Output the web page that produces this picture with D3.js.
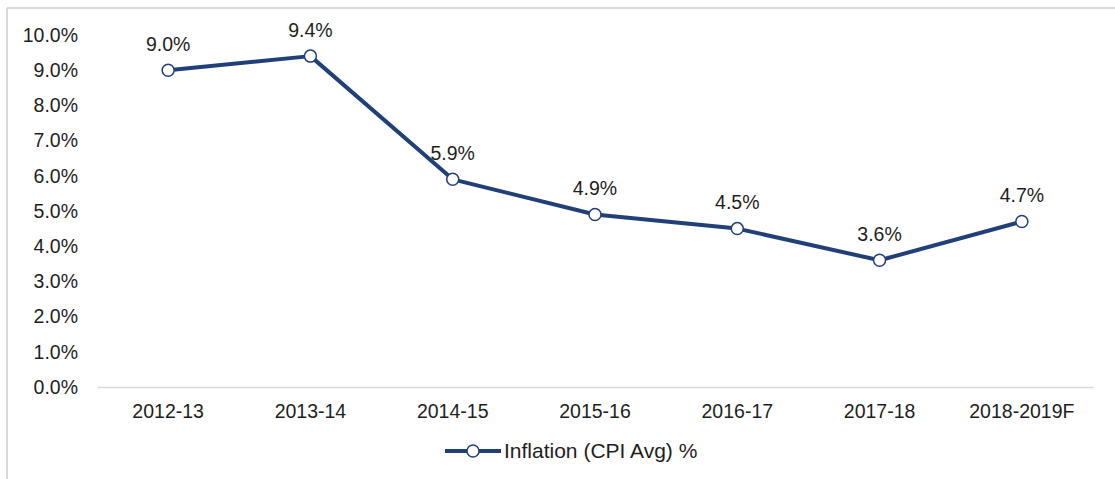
<!DOCTYPE html>
<html>
<head>
<meta charset="utf-8">
<script src="https://cdnjs.cloudflare.com/ajax/libs/d3/7.8.5/d3.min.js"></script>
<style>
    body { margin: 0; background: #fff; }
    svg text { font-family: "Liberation Sans", Arial, sans-serif; fill: #1e1e1e; }
</style>
</head>
<body>
<div id="chart"></div>
<script>
/* ----------------------------------------------------- Data ------------------------------------------------------------------------- */

const years = ["2012-13", "2013-14", "2014-15", "2015-16", "2016-17", "2017-18", "2018-2019F"];
const inflation = [9.0, 9.4, 5.9, 4.9, 4.5, 3.6, 4.7];
const yTicks = [0, 1, 2, 3, 4, 5, 6, 7, 8, 9, 10];
const seriesName = "Inflation (CPI Avg) %";

/* ----------------------------------------------------- Chart ------------------------------------------------------------------------ */

const width = 1115;
const height = 479;
const margin = { top: 35, right: 22, bottom: 92, left: 97 };
const navy = "#213f78";
const fontSize = '19.5px';

const svg = d3.select('#chart').append('svg')
    .attr('width', width)
    .attr('height', height);

/* frame (top and left edges only visible) */
svg.append('line')
    .attr('x1', 7).attr('x2', width).attr('y1', 8).attr('y2', 8)
    .attr('stroke', '#d9d9d9').attr('stroke-width', 2);
svg.append('line')
    .attr('x1', 7).attr('x2', 7).attr('y1', 8).attr('y2', height)
    .attr('stroke', '#d9d9d9').attr('stroke-width', 2);

const xScale = d3.scaleBand()
    .domain(years)
    .range([margin.left, width - margin.right]);

const yScale = d3.scaleLinear()
    .domain([0, 10])
    .range([height - margin.bottom, margin.top]);

/* y axis labels */
const yAxis = svg.append('g')
    .attr('transform', `translate(${margin.left - 19}, 0)`)
    .call(d3.axisLeft(yScale).tickValues(yTicks).tickSize(0).tickFormat(d => d.toFixed(1) + '%'));
yAxis.select('.domain').remove();
yAxis.selectAll('text')
    .attr('x', 0)
    .style('font-size', fontSize);

/* x axis */
const xAxis = svg.append('g')
    .attr('transform', `translate(0, ${yScale(0)})`)
    .call(d3.axisBottom(xScale).tickSize(0));
xAxis.select('.domain')
    .attr('stroke', '#d9d9d9')
    .attr('stroke-width', 1.5);
xAxis.selectAll('text')
    .attr('dy', '0.35em')
    .attr('y', 24)
    .style('font-size', fontSize);

/* line */
const line = d3.line()
    .x((d, i) => xScale(years[i]) + xScale.bandwidth() / 2)
    .y(d => yScale(d));

svg.append('path')
    .datum(inflation)
    .attr('d', line)
    .attr('fill', 'none')
    .attr('stroke', navy)
    .attr('stroke-width', 4)
    .attr('stroke-linejoin', 'round');

svg.selectAll('.point')
    .data(inflation)
    .enter()
    .append('circle')
    .attr('class', 'point')
    .attr('cx', (d, i) => xScale(years[i]) + xScale.bandwidth() / 2)
    .attr('cy', d => yScale(d))
    .attr('r', 6)
    .attr('fill', '#fff')
    .attr('stroke', navy)
    .attr('stroke-width', 1.5);

svg.selectAll('.value-label')
    .data(inflation)
    .enter()
    .append('text')
    .attr('class', 'value-label')
    .attr('x', (d, i) => xScale(years[i]) + xScale.bandwidth() / 2)
    .attr('y', d => yScale(d) - 26)
    .attr('dy', '0.35em')
    .attr('text-anchor', 'middle')
    .style('font-size', fontSize)
    .text(d => d.toFixed(1) + '%');

/* legend */
const legend = svg.append('g').attr('transform', 'translate(445, 451)');
legend.append('line')
    .attr('x1', 0).attr('x2', 56).attr('y1', 0).attr('y2', 0)
    .attr('stroke', navy).attr('stroke-width', 4);
legend.append('circle')
    .attr('cx', 28).attr('cy', 0).attr('r', 6)
    .attr('fill', '#fff').attr('stroke', navy).attr('stroke-width', 1.5);
legend.append('text')
    .attr('x', 59).attr('y', 0).attr('dy', '0.35em')
    .style('font-size', '21px')
    .text(seriesName);
</script>
</body>
</html>
